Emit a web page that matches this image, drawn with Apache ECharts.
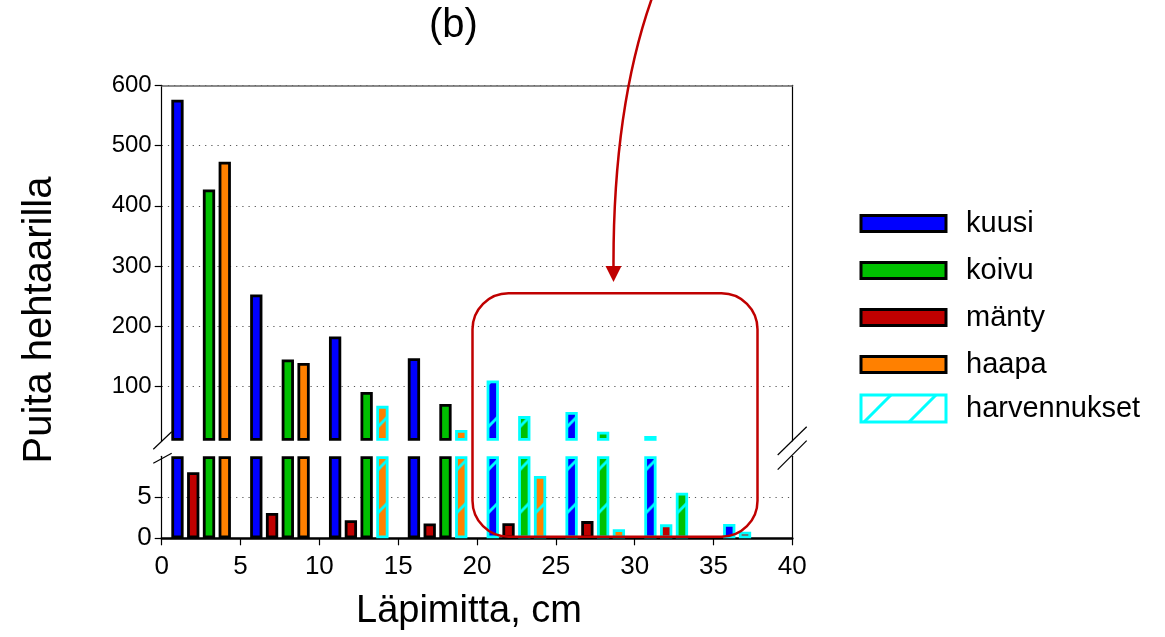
<!DOCTYPE html>
<html>
<head>
<meta charset="utf-8">
<title>Puita hehtaarilla</title>
<script src="https://cdn.jsdelivr.net/npm/echarts@6/dist/echarts.min.js"></script>
<style>
html, body { margin: 0; padding: 0; background: #fff; }
#chart { width: 1165px; height: 637px; }
</style>
</head>
<body>
<div id="chart"></div>
<script>
// läpimittaluokat, puulajin pylväs luokan alusta +1..+4 cm
const classStart = [0, 5, 10, 15, 20, 25, 30, 35]
const kuusi = [576, 253, 183, 147, 110, 58, 18, 1.75]
const manty = [8.05, 3.1, 2.2, 1.8, 1.85, 2.1, 1.7, 0.8]
const koivu = [427, 145, 91, 71, 51, 25, 5.55, null]
const haapa = [473, 139, 68, 28, 7.6, 1.1, null, null]
// 1 = harvennuksessa poistettava
const kuusiHarv = [0, 0, 0, 0, 1, 1, 1, 1]
const mantyHarv = [0, 0, 0, 0, 0, 0, 1, 1]
const koivuHarv = [0, 0, 0, 0, 1, 1, 1, 0]
const haapaHarv = [0, 0, 1, 1, 1, 1, 0, 0]
const yTicksTop = [100, 200, 300, 400, 500, 600]
const yTicksBottom = [0, 5]
const breakAt = 10

const FONT = '"Liberation Sans", Arial, sans-serif'
const CYAN = '#00ffff'
const BAR_W = 12.3

const hatchCache = {}
function hatch(color) {
  if (hatchCache[color]) return hatchCache[color]
  const c = document.createElement('canvas')
  c.width = 16; c.height = 43
  const g = c.getContext('2d')
  g.fillStyle = color; g.fillRect(0, 0, 16, 43)
  g.strokeStyle = CYAN; g.lineWidth = 3
  g.beginPath(); g.moveTo(0, 16); g.lineTo(16, 0); g.stroke()
  hatchCache[color] = { image: c, repeat: 'repeat', x: 169.6, y: 27, scaleX: 15.77 / 16 }
  return hatchCache[color]
}

function legendHatch() {
  const c = document.createElement('canvas')
  c.width = 45; c.height = 27
  const g = c.getContext('2d')
  g.fillStyle = '#fff'; g.fillRect(0, 0, 45, 27)
  g.strokeStyle = CYAN; g.lineWidth = 3
  g.beginPath(); g.moveTo(3, 27); g.lineTo(30, 0); g.stroke()
  return { image: c, repeat: 'repeat' }
}

function makeSeries(name, vals, harv, off, color, panel) {
  const data = []
  vals.forEach((v, i) => {
    if (v == null) return
    if (panel === 0 && v <= breakAt) return
    const item = { value: [classStart[i] + off, panel === 0 ? v : Math.min(v, breakAt)] }
    if (harv[i]) item.itemStyle = { color: hatch(color), borderColor: CYAN }
    data.push(item)
  })
  return {
    name, type: 'bar',
    xAxisIndex: panel, yAxisIndex: panel === 0 ? 0 : 2,
    barWidth: BAR_W, barGap: '-100%', clip: false,
    itemStyle: { color, borderColor: '#000', borderWidth: 2.8 },
    emphasis: { disabled: true },
    data
  }
}

const speciesDefs = [
  ['kuusi', kuusi, kuusiHarv, 1, '#0000ff'],
  ['mänty', manty, mantyHarv, 2, '#c00000'],
  ['koivu', koivu, koivuHarv, 3, '#00c000'],
  ['haapa', haapa, haapaHarv, 4, '#ff8000'],
]
const series = []
for (const panel of [0, 1]) {
  speciesDefs.forEach(d => series.push(makeSeries(d[0], d[1], d[2], d[3], d[4], panel)))
}
// vain selitettä varten
series.push({
  name: 'harvennukset', type: 'bar', xAxisIndex: 1, yAxisIndex: 2, data: [],
  barWidth: BAR_W, barGap: '-100%',
  itemStyle: { color: legendHatch(), borderColor: CYAN, borderWidth: 3 }
})

const grids = [
  { left: 161.7, top: 85.3, width: 630.6, height: 355.5 },
  { left: 161.7, top: 456.3, width: 630.6, height: 82 },
]
const dotted = { show: true, lineStyle: { color: '#555', type: [1.2, 5], width: 1.2 } }
const tickLabel = { fontSize: 24, fontFamily: FONT, color: '#000' }
const tickLabelLow = { fontSize: 26, fontFamily: FONT, color: '#000' }
const edge = (gridIndex) => ({
  gridIndex, position: 'right', min: 0, max: 1,
  axisLine: { show: true, onZero: false, lineStyle: { color: '#000', width: 1.2 } },
  axisTick: { show: false }, axisLabel: { show: false }, splitLine: { show: false }
})

const chart = echarts.init(document.getElementById('chart'))
chart.setOption({
  animation: false,
  backgroundColor: '#fff',
  title: {
    text: '(b)', left: 429, top: 6, padding: 0,
    textStyle: { fontSize: 40, fontWeight: 'normal', fontFamily: FONT, color: '#000' }
  },
  grid: grids,
  xAxis: [
    {
      gridIndex: 0, type: 'value', position: 'top', min: 0, max: 40,
      axisLine: { show: true, onZero: false, lineStyle: { color: '#666', width: 1.5 } },
      axisTick: { show: false }, axisLabel: { show: false }, splitLine: { show: false }
    },
    {
      gridIndex: 1, type: 'value', min: 0, max: 40, interval: 5,
      name: 'Läpimitta, cm', nameLocation: 'middle', nameGap: 54,
      nameTextStyle: { fontSize: 38, fontFamily: FONT, color: '#000', padding: [0, 16, 0, 0] },
      axisLine: { show: true, onZero: false, lineStyle: { color: '#000', width: 2.5 } },
      axisTick: { show: true, length: 7, lineStyle: { color: '#000', width: 1.2 } },
      axisLabel: Object.assign({ margin: 16 }, tickLabelLow),
      splitLine: { show: false }
    }
  ],
  yAxis: [
    {
      gridIndex: 0, type: 'value', min: breakAt, max: 600, startValue: breakAt,
      axisLine: { show: true, onZero: false, lineStyle: { color: '#000', width: 1.2 } },
      axisTick: { show: true, length: 7, customValues: yTicksTop, lineStyle: { color: '#000', width: 1.2 } },
      axisLabel: Object.assign({ margin: 10, customValues: yTicksTop }, tickLabel),
      splitLine: dotted
    },
    edge(0),
    {
      gridIndex: 1, type: 'value', min: 0, max: breakAt,
      axisLine: { show: true, onZero: false, lineStyle: { color: '#000', width: 1.2 } },
      axisTick: { show: true, length: 7, customValues: yTicksBottom, lineStyle: { color: '#000', width: 1.2 } },
      axisLabel: Object.assign({ margin: 10, customValues: yTicksBottom }, tickLabelLow),
      splitLine: dotted
    },
    edge(1)
  ],
  legend: [
    {
      data: ['kuusi', 'koivu', 'mänty', 'haapa'],
      orient: 'vertical', left: 859.5, top: 209, padding: 0,
      itemWidth: 85, itemHeight: 16, itemGap: 18, icon: 'rect', selectedMode: false,
      itemStyle: { borderColor: '#000', borderWidth: 3 },
      textStyle: { fontSize: 29, fontFamily: FONT, color: '#000', padding: [0, 0, 0, 15] }
    },
    {
      data: ['harvennukset'],
      orient: 'vertical', left: 859.5, top: 393.5, padding: 0,
      itemWidth: 85, itemHeight: 27, icon: 'rect', selectedMode: false,
      itemStyle: { borderColor: CYAN, borderWidth: 3 },
      textStyle: { fontSize: 29, fontFamily: FONT, color: '#000', padding: [0, 0, 0, 15] }
    }
  ],
  graphic: [
    {
      type: 'text', x: 40, y: 320, rotation: Math.PI / 2,
      style: { text: 'Puita hehtaarilla', fontSize: 40, fontFamily: FONT, fill: '#000', align: 'center', verticalAlign: 'middle' }
    },
    // akselin katkokset
    { type: 'line', shape: { x1: 153.3, y1: 449.3, x2: 171.7, y2: 431.7 }, style: { stroke: '#000', lineWidth: 1.2 } },
    { type: 'line', shape: { x1: 153.3, y1: 463.3, x2: 171.7, y2: 453.3 }, style: { stroke: '#000', lineWidth: 1.2 } },
    { type: 'line', shape: { x1: 777.7, y1: 455, x2: 806.7, y2: 426.7 }, style: { stroke: '#000', lineWidth: 1.2 } },
    { type: 'line', shape: { x1: 777.7, y1: 469.7, x2: 806.7, y2: 440.7 }, style: { stroke: '#000', lineWidth: 1.2 } },
    // harvennusten korostus
    {
      type: 'rect', z: 100, shape: { x: 472.5, y: 293.3, width: 285, height: 243.4, r: 36 },
      style: { fill: 'none', stroke: '#c00000', lineWidth: 2.5 }
    },
    {
      type: 'bezierCurve', z: 100,
      shape: { x1: 652, y1: -2, cpx1: 630, cpy1: 60, cpx2: 613, cpy2: 150, x2: 613.5, y2: 268 },
      style: { fill: 'none', stroke: '#c00000', lineWidth: 2.5 }
    },
    {
      type: 'polygon', z: 100,
      shape: { points: [[605.5, 266], [621.5, 266], [613.5, 282]] },
      style: { fill: '#c00000' }
    }
  ],
  series
})
</script>
</body>
</html>
